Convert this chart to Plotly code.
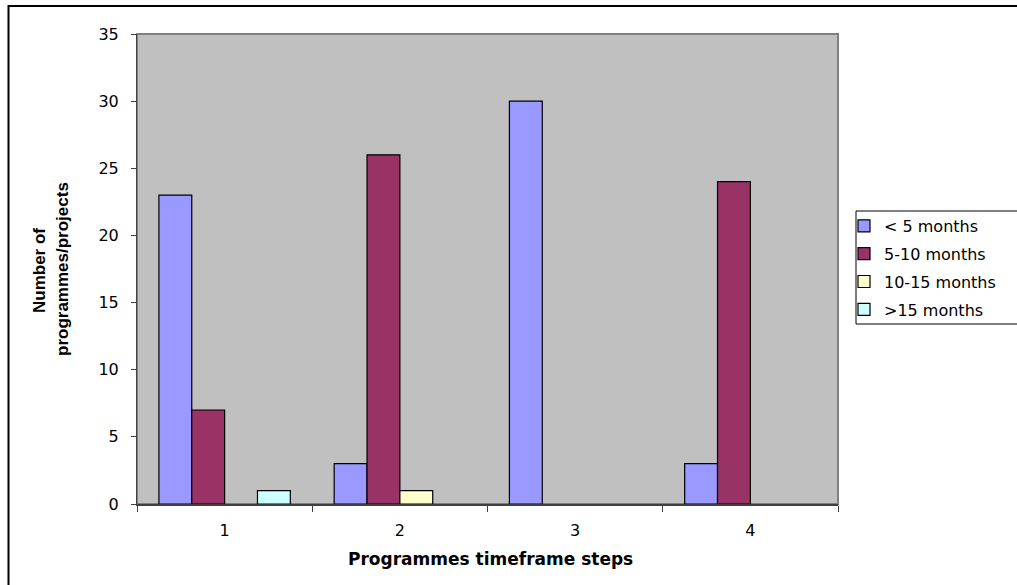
import plotly.graph_objects as go

categories = ["1", "2", "3", "4"]
series_names = ["< 5 months", "5-10 months", "10-15 months", ">15 months"]
lt5 = [23, 3, 30, 3]
m5_10 = [7, 26, 0, 24]
m10_15 = [0, 1, 0, 0]
gt15 = [1, 0, 0, 0]
colors = ["#9999FF", "#993366", "#FFFFCC", "#CCFFFF"]

W, H = 1017, 585
L, R, T, B = 137, 838, 34, 504
pw, ph = R - L, B - T

def px_x(p):
    return (p - L) / pw

def px_y(p):
    return (B - p) / ph

fig = go.Figure()
for i, (name, vals, c) in enumerate(zip(series_names, [lt5, m5_10, m10_15, gt15], colors)):
    # zero-height bars are not drawn (no flat outline), as in the original
    shown = [v if v != 0 else None for v in vals]
    fig.add_trace(go.Bar(x=categories, y=shown, name=name, legendgroup=f"g{i}",
                         marker=dict(color=c, line=dict(color="black", width=1.2))))

font = "DejaVu Sans, Liberation Sans, sans-serif"
bold_font = "Liberation Sans, Arial, sans-serif"
fig.update_layout(
    width=W, height=H,
    margin=dict(l=L, r=W - R, t=T, b=H - B),
    paper_bgcolor="white", plot_bgcolor="#C0C0C0",
    barmode="group", bargap=0.25, bargroupgap=0,
    font=dict(family=font, size=16, color="black"),
    showlegend=True,
    legend=dict(x=px_x(844), y=px_y(209), xanchor="left", yanchor="top",
                bgcolor="rgba(0,0,0,0)", borderwidth=0,
                font=dict(size=16, family=font), tracegroupgap=4,
                itemwidth=30),
    xaxis=dict(type="category", tickson="boundaries", ticks="outside", ticklen=6,
               tickcolor="#404040", showline=True, linecolor="#404040", linewidth=2,
               showgrid=False, ticklabelstandoff=11, tickfont=dict(size=16)),
    yaxis=dict(range=[0, 35], dtick=5, ticks="outside", ticklen=5, tickcolor="#404040",
               showline=True, linecolor="#404040", linewidth=1, showgrid=False,
               zeroline=False, ticklabelstandoff=9, tickfont=dict(size=16)),
    shapes=[
        dict(type="rect", xref="paper", yref="paper", x0=0, x1=1, y0=0, y1=1,
             line=dict(color="#808080", width=2), layer="below"),
        dict(type="rect", xref="paper", yref="paper",
             x0=px_x(8.5), x1=px_x(1030), y0=px_y(600), y1=px_y(6),
             line=dict(color="black", width=2)),
        dict(type="rect", xref="paper", yref="paper",
             x0=px_x(856), x1=px_x(1030), y0=px_y(324), y1=px_y(211),
             line=dict(color="black", width=1), fillcolor="white", layer="below"),
    ],
    annotations=[
        dict(text="<b>Number of</b>", textangle=-90,
             xref="paper", yref="paper", x=px_x(39), y=px_y(271),
             xanchor="center", yanchor="middle",
             showarrow=False, font=dict(size=17, family=bold_font)),
        dict(text="<b>programmes/projects</b>", textangle=-90,
             xref="paper", yref="paper", x=px_x(62), y=px_y(269),
             xanchor="center", yanchor="middle",
             showarrow=False, font=dict(size=17, family=bold_font)),
        dict(text="<b>Programmes timeframe steps</b>",
             xref="paper", yref="paper", x=px_x(490), y=px_y(559),
             xanchor="center", yanchor="middle",
             showarrow=False, font=dict(size=17, family=font)),
    ],
)

fig.write_html("out.html")
